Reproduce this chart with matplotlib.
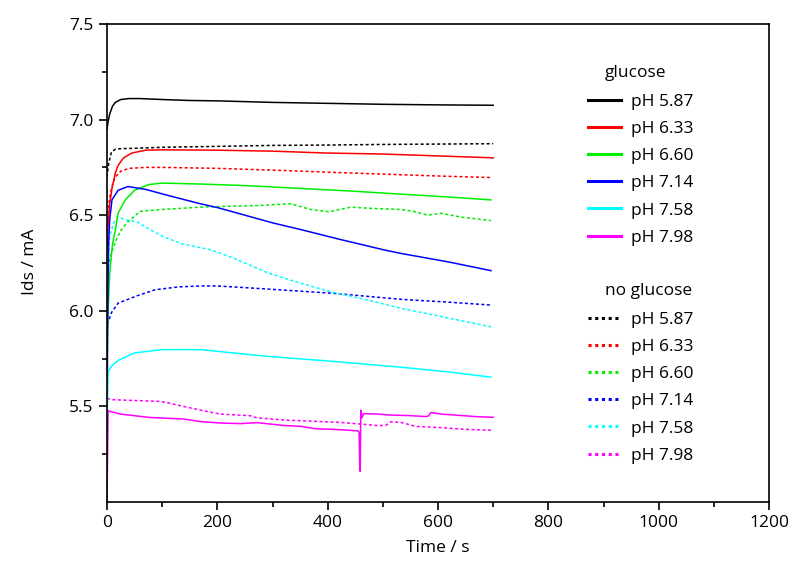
import matplotlib
matplotlib.use("Agg")
import matplotlib.pyplot as plt
from matplotlib.lines import Line2D

plt.rcParams['font.family'] = ['Open Sans', 'DejaVu Sans']

# ---------------- data ----------------
ph_labels = ["pH 5.87", "pH 6.33", "pH 6.60", "pH 7.14", "pH 7.58", "pH 7.98"]
colors = ["#000000", "#ff0000", "#00ee00", "#0000ff", "#00ffff", "#ff00ff"]

# glucose (solid)
g587_t = [0, 2, 5, 10, 15, 25, 40, 60, 100, 150, 200, 300, 400, 500, 600, 700]
g587_y = [6.95, 6.99, 7.03, 7.07, 7.09, 7.105, 7.11, 7.11, 7.105, 7.10, 7.098, 7.09, 7.085, 7.08, 7.077, 7.075]

g633_t = [0, 2, 5, 9, 15, 20, 30, 45, 70, 100, 200, 300, 400, 500, 600, 700]
g633_y = [6.32, 6.45, 6.56, 6.64, 6.72, 6.76, 6.80, 6.825, 6.84, 6.842, 6.84, 6.835, 6.825, 6.82, 6.81, 6.80]

g660_t = [0, 2, 5, 10, 15, 20, 33, 50, 75, 100, 169, 250, 351, 450, 533, 620, 696]
g660_y = [5.69, 6.0, 6.20, 6.35, 6.42, 6.51, 6.58, 6.63, 6.66, 6.668, 6.663, 6.655, 6.64, 6.625, 6.61, 6.595, 6.58]

g714_t = [0, 1, 3, 5, 9, 20, 38, 70, 115, 169, 200, 250, 300, 351, 420, 503, 533, 620, 696]
g714_y = [5.09, 5.9, 6.35, 6.48, 6.58, 6.63, 6.65, 6.635, 6.60, 6.56, 6.54, 6.50, 6.46, 6.425, 6.375, 6.318, 6.30, 6.255, 6.21]

g758_t = [0, 2, 8, 20, 50, 100, 169, 290, 412, 533, 620, 696]
g758_y = [5.44, 5.68, 5.71, 5.74, 5.78, 5.797, 5.797, 5.762, 5.735, 5.705, 5.68, 5.653]

g798_t = [0, 2, 24, 78, 139, 169, 205, 242, 272, 321, 351, 375, 424, 455, 457, 458, 459, 460, 462,
          465, 490, 511, 547, 578, 583, 587, 605, 624, 672, 700]
g798_y = [5.0, 5.477, 5.46, 5.442, 5.434, 5.421, 5.413, 5.41, 5.415, 5.40, 5.396, 5.384, 5.378, 5.372, 5.365, 5.20, 5.16, 5.48, 5.44,
          5.462, 5.46, 5.455, 5.452, 5.447, 5.45, 5.468, 5.46, 5.456, 5.446, 5.443]

# no glucose (dotted)
n587_t = [0, 3, 8, 15, 25, 50, 100, 200, 300, 400, 500, 600, 700]
n587_y = [6.70, 6.77, 6.83, 6.845, 6.848, 6.85, 6.855, 6.86, 6.865, 6.867, 6.87, 6.872, 6.874]

n633_t = [0, 3, 6, 10, 15, 25, 40, 70, 100, 200, 254, 338, 400, 509, 600, 696]
n633_y = [6.45, 6.55, 6.61, 6.66, 6.70, 6.73, 6.745, 6.75, 6.75, 6.745, 6.74, 6.732, 6.725, 6.714, 6.705, 6.697]

n660_t = [0, 3, 8, 15, 25, 36, 60, 100, 169, 224, 278, 333, 369, 402, 442, 484, 533, 556, 581, 605, 642, 696]
n660_y = [6.20, 6.25, 6.30, 6.36, 6.42, 6.46, 6.52, 6.53, 6.542, 6.547, 6.551, 6.56, 6.53, 6.518, 6.542, 6.535, 6.53, 6.52, 6.50, 6.51, 6.49, 6.472]

n714_t = [0, 2, 8, 20, 56, 87, 130, 169, 200, 290, 412, 533, 620, 696]
n714_y = [5.93, 5.94, 5.99, 6.04, 6.08, 6.11, 6.125, 6.13, 6.13, 6.114, 6.091, 6.06, 6.045, 6.03]

n758_t = [0, 2, 5, 12, 20, 35, 55, 75, 100, 136, 187, 230, 290, 351, 412, 473, 533, 594, 696]
n758_y = [6.20, 6.30, 6.39, 6.46, 6.49, 6.475, 6.465, 6.43, 6.39, 6.35, 6.32, 6.275, 6.20, 6.144, 6.095, 6.056, 6.013, 5.977, 5.916]

n798_t = [0, 3, 11, 96, 109, 127, 169, 205, 260, 272, 327, 424, 450, 490, 505, 515, 535, 560, 600, 650, 700]
n798_y = [5.54, 5.54, 5.535, 5.526, 5.52, 5.507, 5.481, 5.46, 5.451, 5.44, 5.428, 5.416, 5.41, 5.40, 5.40, 5.42, 5.415, 5.395, 5.39, 5.38, 5.375]

glucose = [(g587_t, g587_y), (g633_t, g633_y), (g660_t, g660_y),
           (g714_t, g714_y), (g758_t, g758_y), (g798_t, g798_y)]
noglucose = [(n587_t, n587_y), (n633_t, n633_y), (n660_t, n660_y),
             (n714_t, n714_y), (n758_t, n758_y), (n798_t, n798_y)]

x_ticks = [0, 200, 400, 600, 800, 1000, 1200]
y_ticks = [5.5, 6.0, 6.5, 7.0, 7.5]

# ---------------- figure ----------------
W, H = 792, 569
fig = plt.figure(figsize=(W / 100, H / 100), dpi=100)
ax = fig.add_axes([107 / W, 1 - 502 / H, (769 - 107) / W, (502 - 24) / H])

dot = (0, (2.0, 1.6))
for (t, y), c in zip(noglucose, colors):
    ax.plot(t, y, color=c, lw=1.1, ls=dot)
for (t, y), c in zip(glucose, colors):
    ax.plot(t, y, color=c, lw=1.1, ls='-')

ax.set_xlim(0, 1200)
ax.set_ylim(5.0, 7.5)
ax.set_xticks(x_ticks)
ax.set_xticks(range(100, 1200, 200), minor=True)
ax.set_yticks(y_ticks)
ax.set_yticks([5.25, 5.75, 6.25, 6.75, 7.25], minor=True)
ax.set_yticklabels([f"{v:.1f}" for v in y_ticks])
ax.tick_params(which='both', direction='out', top=False, right=False, width=1.2, labelsize=12.5, colors='black')
ax.tick_params(which='major', length=6)
ax.tick_params(which='minor', length=3.5)
for s in ax.spines.values():
    s.set_linewidth(1.2)

fig.text(30 / W, 1 - 262 / H, "Ids / mA", rotation=90, ha='center', va='center', fontsize=12.5)
fig.text(438 / W, 1 - 548 / H, "Time / s", ha='center', va='center', fontsize=12.5)

# legends
def make_legend(handles, top_px):
    leg = ax.legend(handles=handles, labels=ph_labels, loc='upper left',
                    bbox_to_anchor=(588 / W, 1 - top_px / H), bbox_transform=fig.transFigure,
                    frameon=False, fontsize=12.5, handlelength=1.9, handletextpad=0.55,
                    labelspacing=0.63, borderpad=0, borderaxespad=0)
    return leg

h1 = [Line2D([0], [0], color=c, lw=2.2, ls='-') for c in colors]
h2 = [Line2D([0], [0], color=c, lw=2.2, ls=(0, (1.0, 1.2))) for c in colors]
leg1 = make_legend(h1, 94)
ax.add_artist(leg1)
leg2 = make_legend(h2, 312)

fig.text(605 / W, 1 - 73 / H, "glucose", ha='left', va='center', fontsize=12.5)
fig.text(605 / W, 1 - 291 / H, "no glucose", ha='left', va='center', fontsize=12.5)

fig.savefig("out.png", dpi=100)
